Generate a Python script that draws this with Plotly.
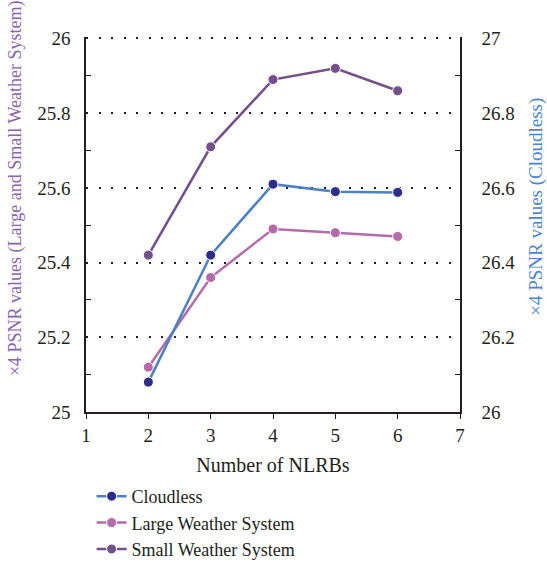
import plotly.graph_objects as go

nlrbs = [2, 3, 4, 5, 6]
cloudless = [26.08, 26.42, 26.61, 26.59, 26.588]
large_ws = [25.12, 25.36, 25.49, 25.48, 25.47]
small_ws = [25.42, 25.71, 25.89, 25.92, 25.86]

FONT = "Liberation Serif"
C_CLOUD_LINE = "#4a80c8"
C_CLOUD_MARK = "#2f2d8c"
C_LARGE = "#b56aa9"
C_SMALL = "#744f8e"
AX = "#231f20"

fig = go.Figure()
fig.add_trace(go.Scatter(x=nlrbs, y=cloudless, name="Cloudless", yaxis="y2",
                         mode="lines+markers",
                         line=dict(color=C_CLOUD_LINE, width=2.5),
                         marker=dict(color=C_CLOUD_MARK, size=10, line=dict(color="white", width=1))))
fig.add_trace(go.Scatter(x=nlrbs, y=large_ws, name="Large Weather System",
                         mode="lines+markers",
                         line=dict(color=C_LARGE, width=2.5),
                         marker=dict(color=C_LARGE, size=10, line=dict(color="white", width=1))))
fig.add_trace(go.Scatter(x=nlrbs, y=small_ws, name="Small Weather System",
                         mode="lines+markers",
                         line=dict(color=C_SMALL, width=2.5),
                         marker=dict(color=C_SMALL, size=10, line=dict(color="white", width=1))))

fig.update_layout(
    width=547, height=563,
    margin=dict(l=86, r=87, t=37, b=151, autoexpand=False),
    paper_bgcolor="white", plot_bgcolor="white",
    font=dict(family=FONT, size=19, color=AX),
    xaxis=dict(range=[1, 7], dtick=1, showline=True, linecolor=AX, linewidth=1.5,
               ticks="outside", ticklen=5, tickcolor=AX, showgrid=False, zeroline=False,
               tickfont=dict(size=19),
               title=dict(text="Number of NLRBs", font=dict(size=20), standoff=13)),
    yaxis=dict(range=[25, 26.004], dtick=0.2, tickformat="~g", showline=True, linecolor=AX,
               linewidth=1.5, ticks="", showgrid=True, gridcolor=AX, gridwidth=1.5,
               griddash="2px,10.5px", zeroline=False, ticklabelstandoff=10,
               tickfont=dict(size=19),
               minor=dict(dtick=0.1, ticks="inside", ticklen=5, tickcolor=AX, showgrid=False)),
    yaxis2=dict(range=[26, 27.004], dtick=0.2, tickformat="~g", overlaying="y", side="right",
                showline=True, linecolor=AX, linewidth=1.5, ticks="", showgrid=False,
                zeroline=False, ticklabelstandoff=16, tickfont=dict(size=19),
                minor=dict(dtick=0.1, ticks="inside", ticklen=5, tickcolor=AX, showgrid=False)),
    legend=dict(x=0.015, xanchor="left", y=-0.176, yanchor="top", orientation="v",
                traceorder="normal", font=dict(size=18),
                bgcolor="rgba(0,0,0,0)"),
    annotations=[
        dict(text="×4 PSNR values (Large and Small Weather System)", textangle=-90,
             xref="paper", yref="paper", x=-0.19, y=0.597, xanchor="center", yanchor="middle",
             showarrow=False, font=dict(size=18, color="#8a64ab")),
        dict(text="×4 PSNR values (Cloudless)", textangle=-90,
             xref="paper", yref="paper", x=1.203, y=0.547, xanchor="center", yanchor="middle",
             showarrow=False, font=dict(size=19, color="#4a86cf")),
    ],
)

fig.write_html("out.html")
